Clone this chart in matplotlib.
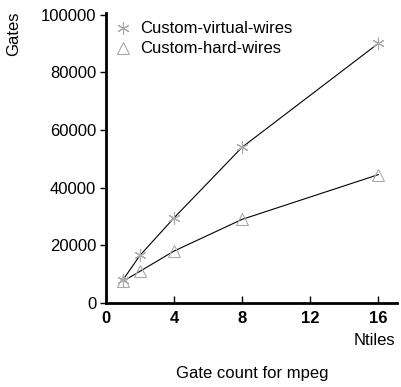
import matplotlib

matplotlib.use("Agg")
import matplotlib.pyplot as plt

plt.rcParams["font.family"] = ["Liberation Sans", "DejaVu Sans"]

NTILES = [1, 2, 4, 8, 16]
VIRTUAL_WIRES = [8000, 16500, 29500, 54000, 90000]
HARD_WIRES = [7500, 11000, 18000, 29000, 44500]
X_TICKS = [0, 4, 8, 12, 16]
Y_TICKS = [0, 20000, 40000, 60000, 80000, 100000]


def main():
    fig = plt.figure(figsize=(4.01, 3.87), dpi=100)
    ax = fig.add_axes([0.264, 0.217, 0.726, 0.749])

    ax.plot(NTILES, VIRTUAL_WIRES, color="black", linewidth=0.8, zorder=2)
    ax.plot(NTILES, HARD_WIRES, color="black", linewidth=0.8, zorder=2)
    ax.plot(NTILES, VIRTUAL_WIRES, linestyle="none", marker=(6, 2, 0), markersize=9,
            markeredgecolor="#aaaaaa", markeredgewidth=0.8, label="Custom-virtual-wires", zorder=3)
    ax.plot(NTILES, HARD_WIRES, linestyle="none", marker="^", markersize=8,
            markerfacecolor="none", markeredgecolor="#aaaaaa", markeredgewidth=0.8,
            label="Custom-hard-wires", zorder=3)

    ax.set_xlim(0, 17.1)
    ax.set_ylim(0, 100500)
    ax.set_xticks(X_TICKS)
    ax.set_yticks(Y_TICKS)
    ax.set_xticklabels([str(t) for t in X_TICKS], fontweight="bold")

    for side in ["top", "right"]:
        ax.spines[side].set_visible(False)
    for side in ["left", "bottom"]:
        ax.spines[side].set_linewidth(2)

    ax.tick_params(axis="x", direction="in", length=5, width=1, labelsize=12, pad=6)
    ax.tick_params(axis="y", direction="out", length=4, width=1, labelsize=12, pad=3)

    ax.legend(loc="upper left", frameon=False, fontsize=12, handlelength=1.0,
              handletextpad=0.55, borderaxespad=0.1, labelspacing=0.3,
              bbox_to_anchor=(0.0, 1.0))

    fig.text(0.035, 0.912, "Gates", rotation=90, ha="center", va="center", fontsize=12)
    fig.text(0.985, 0.12, "Ntiles", ha="right", va="center", fontsize=12)
    fig.text(0.63, 0.035, "Gate count for mpeg", ha="center", va="center", fontsize=12)

    fig.savefig("out.png", dpi=100)
    plt.close(fig)


if __name__ == "__main__":
    main()
